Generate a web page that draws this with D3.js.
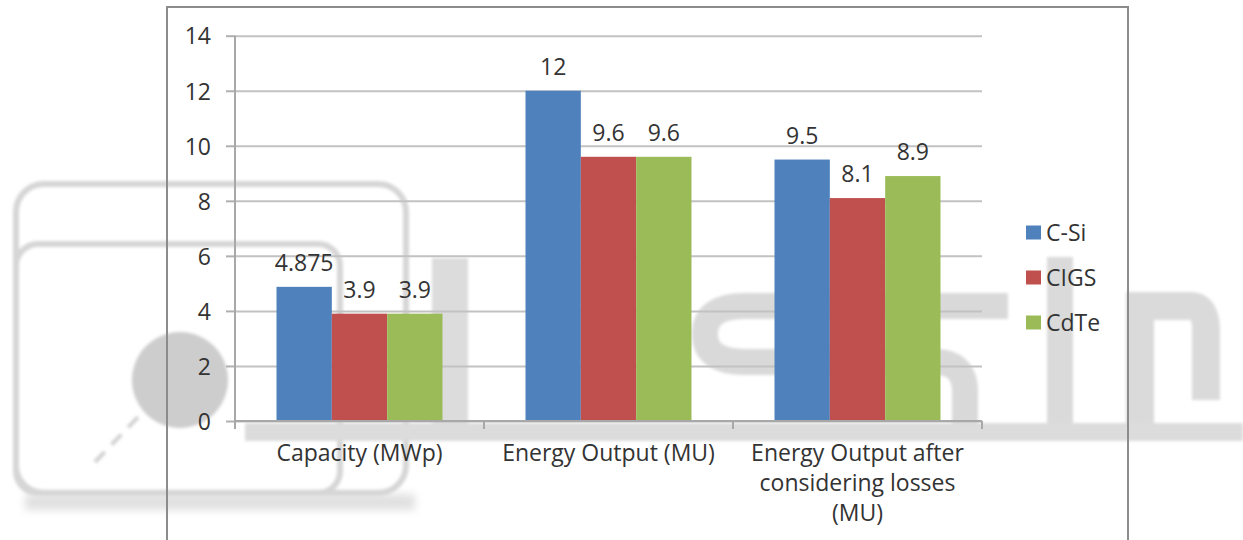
<!DOCTYPE html>
<html>
<head>
<meta charset="utf-8">
<script src="https://cdn.jsdelivr.net/npm/d3@7"></script>
<style>
  html, body { margin: 0; padding: 0; background: #fff; }
  svg { display: block; }
  text { font-family: "Open Sans", "Noto Sans", sans-serif; fill: #333; }
</style>
</head>
<body>
<svg id="chart" width="1243" height="540"></svg>
<script>
// ---- data ----
const categories = ["Capacity (MWp)", "Energy Output (MU)", "Energy Output after considering losses (MU)"];
const series = ["C-Si", "CIGS", "CdTe"];
const cSiValues = [4.875, 12, 9.5];
const cigsValues = [3.9, 9.6, 8.1];
const cdteValues = [3.9, 9.6, 8.9];
const yTicks = [0, 2, 4, 6, 8, 10, 12, 14];

const seriesValues = [cSiValues, cigsValues, cdteValues];
const seriesColors = ["#4F81BD", "#C0504D", "#9BBB59"];

const svg = d3.select("#chart");

// ---- faint logo watermark behind the chart ----
const defs = svg.append("defs");
defs.append("filter").attr("id", "soft").attr("x", "-10%").attr("y", "-10%").attr("width", "120%").attr("height", "120%")
  .append("feGaussianBlur").attr("stdDeviation", 1.6);
defs.append("filter").attr("id", "softer").attr("x", "-20%").attr("y", "-50%").attr("width", "140%").attr("height", "200%")
  .append("feGaussianBlur").attr("stdDeviation", 4);

const wm = svg.append("g").attr("filter", "url(#soft)");
const wmColor = "#d6d6d6";
svg.insert("rect", "g").attr("x", 25).attr("y", 494).attr("width", 390).attr("height", 16)
  .attr("fill", "#e0e0e0").attr("filter", "url(#softer)");
wm.append("rect").attr("x", 16).attr("y", 184).attr("width", 390).attr("height", 309).attr("rx", 28)
  .attr("fill", "none").attr("stroke", wmColor).attr("stroke-width", 6);
wm.append("rect").attr("x", 16).attr("y", 244).attr("width", 324).attr("height", 249).attr("rx", 22)
  .attr("fill", "none").attr("stroke", wmColor).attr("stroke-width", 6);
wm.append("circle").attr("cx", 180).attr("cy", 380).attr("r", 48).attr("fill", "#cdcdcd");
wm.append("line").attr("x1", 95).attr("y1", 462).attr("x2", 140).attr("y2", 415)
  .attr("stroke", "#d2d2d2").attr("stroke-width", 4).attr("stroke-dasharray", "14 10");
wm.append("rect").attr("x", 432).attr("y", 258).attr("width", 36).attr("height", 172).attr("fill", "#dcdcdc");
wm.append("path")
  .attr("d", "M1008,306 H745 Q705,306 705,334 Q705,362 745,362 H935 Q965,362 965,392 V432")
  .attr("fill", "none").attr("stroke", "#d9d9d9").attr("stroke-width", 26);
wm.append("rect").attr("x", 1047).attr("y", 257).attr("width", 26).attr("height", 175).attr("fill", "#dadada");
wm.append("path")
  .attr("d", "M1140,432 V306 H1190 Q1206,306 1206,330 V400")
  .attr("fill", "none").attr("stroke", "#dadada").attr("stroke-width", 28);
svg.append("rect").attr("x", 245).attr("y", 423).attr("width", 998).attr("height", 18)
  .attr("fill", "#dcdcdc").attr("filter", "url(#soft)");

// ---- chart frame ----
svg.append("rect").attr("x", 167).attr("y", 7).attr("width", 961).attr("height", 560)
  .attr("fill", "none").attr("stroke", "#8c8c8c").attr("stroke-width", 2);

// ---- scales ----
const plotLeft = 235, plotRight = 982, plotTop = 35.7, plotBottom = 421;
const y = d3.scaleLinear().domain([0, 14]).range([plotBottom, plotTop]);
const x0 = d3.scaleBand().domain(categories).range([plotLeft, plotRight]).paddingInner(0).paddingOuter(0);
const x1 = d3.scaleBand().domain(series).range([0, x0.bandwidth()]).paddingInner(0).paddingOuter(0.75);

// ---- gridlines ----
const grid = svg.append("g").attr("transform", `translate(${plotLeft},0)`)
  .call(d3.axisLeft(y).tickValues(yTicks).tickSize(-(plotRight - plotLeft)).tickFormat(""));
grid.select(".domain").remove();
grid.selectAll("line").attr("stroke", "#c2c2c2").attr("stroke-width", 2);

// ---- y axis ----
const yAxis = svg.append("g").attr("transform", `translate(${plotLeft},0)`)
  .call(d3.axisLeft(y).tickValues(yTicks).tickSize(9).tickSizeOuter(0).tickPadding(15));
yAxis.select(".domain").remove();
yAxis.selectAll("line").attr("stroke", "#b0b0b0").attr("stroke-width", 2);
yAxis.selectAll("text").attr("font-size", 23).attr("fill", "#333")
  .attr("font-family", "'Open Sans', sans-serif").attr("dy", "0.36em");
svg.append("line").attr("x1", plotLeft).attr("x2", plotLeft).attr("y1", y(14)).attr("y2", plotBottom)
  .attr("stroke", "#a8a8a8").attr("stroke-width", 2);

// ---- bars ----
const groups = svg.append("g").selectAll("g").data(categories).join("g")
  .attr("transform", d => `translate(${x0(d)},0)`);
groups.selectAll("rect")
  .data((c, ci) => series.map((s, si) => ({ s, si, v: seriesValues[si][ci] })))
  .join("rect")
  .attr("x", d => x1(d.s))
  .attr("y", d => y(d.v))
  .attr("width", x1.bandwidth())
  .attr("height", d => y(0) - y(d.v))
  .attr("fill", d => seriesColors[d.si]);

// ---- value labels ----
groups.selectAll("text.val")
  .data((c, ci) => series.map((s, si) => ({ s, si, v: seriesValues[si][ci] })))
  .join("text")
  .attr("class", "val")
  .attr("x", d => x1(d.s) + x1.bandwidth() / 2)
  .attr("y", d => y(d.v) - 16)
  .attr("text-anchor", "middle")
  .attr("font-size", 23)
  .text(d => String(d.v));

// ---- x axis ----
svg.append("line").attr("x1", plotLeft).attr("x2", plotRight).attr("y1", plotBottom).attr("y2", plotBottom)
  .attr("stroke", "#a8a8a8").attr("stroke-width", 2);
const boundaries = categories.map(c => x0(c)).concat([x0.range()[1]]);
svg.append("g").selectAll("line").data(boundaries).join("line")
  .attr("x1", d => d).attr("x2", d => d)
  .attr("y1", plotBottom).attr("y2", plotBottom + 8)
  .attr("stroke", "#a8a8a8").attr("stroke-width", 2);

// category labels, wrapped to the band width
const measure = svg.append("text").attr("font-size", 23).attr("visibility", "hidden");
function wrapLines(str, maxW) {
  const words = str.split(" ");
  const lines = [];
  let cur = "";
  words.forEach(w => {
    const trial = cur ? cur + " " + w : w;
    measure.text(trial);
    if (cur && measure.node().getComputedTextLength() > maxW) {
      lines.push(cur);
      cur = w;
    } else {
      cur = trial;
    }
  });
  if (cur) lines.push(cur);
  return lines;
}
const catLabels = svg.append("g").selectAll("text").data(categories).join("text")
  .attr("x", d => x0(d) + x0.bandwidth() / 2)
  .attr("y", 461)
  .attr("text-anchor", "middle")
  .attr("font-size", 23);
catLabels.each(function (d) {
  const t = d3.select(this);
  const cx = x0(d) + x0.bandwidth() / 2;
  wrapLines(d, 230).forEach((line, i) => {
    t.append("tspan").attr("x", cx).attr("dy", i === 0 ? 0 : 30).text(line);
  });
});
measure.remove();

// ---- legend ----
const legend = svg.append("g").selectAll("g").data(series).join("g")
  .attr("transform", (d, i) => `translate(1026,${232.5 + i * 45})`);
legend.append("rect").attr("x", 0).attr("y", -7).attr("width", 15).attr("height", 14)
  .attr("fill", (d, i) => seriesColors[i]);
legend.append("text").attr("x", 20).attr("y", 0).attr("dy", "0.36em")
  .attr("font-size", 23).text(d => d);
</script>
</body>
</html>
